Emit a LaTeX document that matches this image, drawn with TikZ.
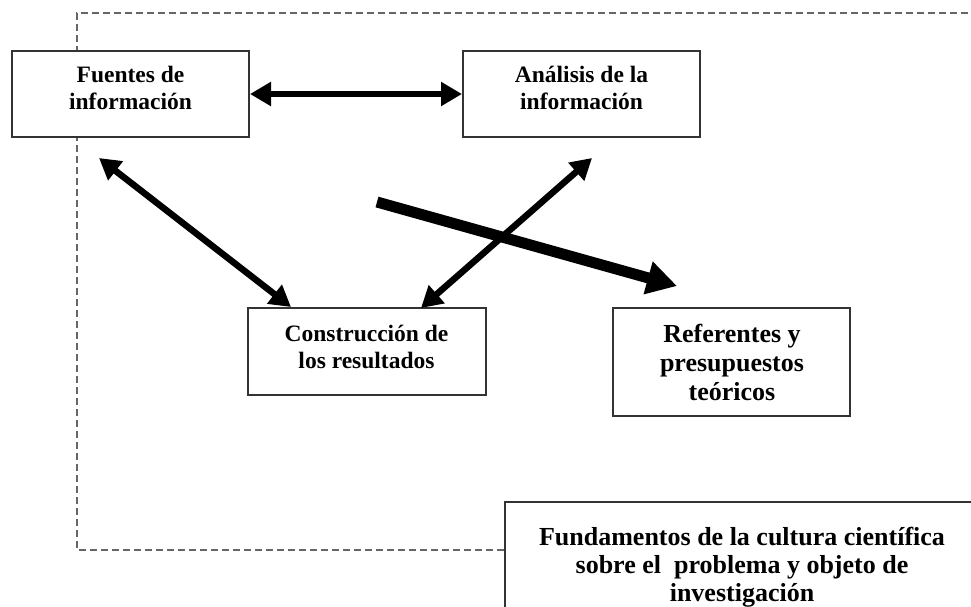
\documentclass[tikz,border=0pt]{standalone}
\usepackage{fontspec}
\setmainfont{Liberation Serif}
\usetikzlibrary{arrows.meta}
\begin{document}
\begin{tikzpicture}[x=1pt,y=-1pt,
  box/.style={draw=black!80, line width=2pt, fill=white, inner sep=0pt},
  lblA/.style={font=\bfseries\fontsize{23.5}{27}\selectfont, align=center, inner sep=0pt, anchor=north},
  lblB/.style={font=\bfseries\fontsize{26}{28}\selectfont, align=center, inner sep=0pt, anchor=north},
  frame/.style={draw=black!60, line width=2.6pt, dash pattern=on 7pt off 4pt},
  thin/.style={line width=6.5pt, {Triangle[length=21pt,width=23pt]}-{Triangle[length=21pt,width=23pt]}},
  thick/.style={line width=11pt, -{Triangle[length=30pt,width=32pt]}}
]
\useasboundingbox (0,0) rectangle (971,606);
\clip (0,0) rectangle (971,606);
\fill[white] (0,0) rectangle (971,606);

% dashed frame
\coordinate (fTR) at (990,13);
\coordinate (fTL) at (77,13);
\coordinate (fBL) at (77,550);
\coordinate (fBR) at (505,550);
\draw[frame] (fTR) -- (fTL) -- (fBL) -- (fBR);

% boxes
\node[box, minimum width=237pt, minimum height=86pt] (fuentes) at (130.5,94) {};
\node[box, minimum width=237pt, minimum height=86pt] (analisis) at (581.5,94) {};
\node[box, minimum width=238pt, minimum height=87pt] (construccion) at (367,351.5) {};
\node[box, minimum width=237pt, minimum height=108pt] (referentes) at (731.5,362) {};
\node[box, minimum width=480pt, minimum height=138pt] (fundamentos) at (745,571) {};

% texts
\node[lblA] (tfuentes) at (130.5,66) {Fuentes de\\información};
\node[lblA] (tanalisis) at (581.5,66) {Análisis de la\\información};
\node[lblA] (tconstruccion) at (366.5,325) {Construcción de\\los resultados};
\node[lblB, font=\bfseries\fontsize{26}{29}\selectfont] (treferentes) at (732,324) {Referentes y\\presupuestos\\teóricos};
\node[lblB] (tfundamentos) at (742,527) {Fundamentos de la cultura científica\\sobre el\ \ problema y objeto de\\investigación};

% connectors
\coordinate (fc1) at (99,158);
\coordinate (fc2) at (291,307);
\coordinate (ac1) at (592,158);
\coordinate (ac2) at (421,308);
\coordinate (r1) at (377,202);
\coordinate (r2) at (677,286);

\draw[thin] (fuentes.east) -- (analisis.west);
\draw[thin] (fc1) -- (fc2);
\draw[thin] (ac1) -- (ac2);
\draw[thick] (r1) -- (r2);
\end{tikzpicture}
\end{document}
